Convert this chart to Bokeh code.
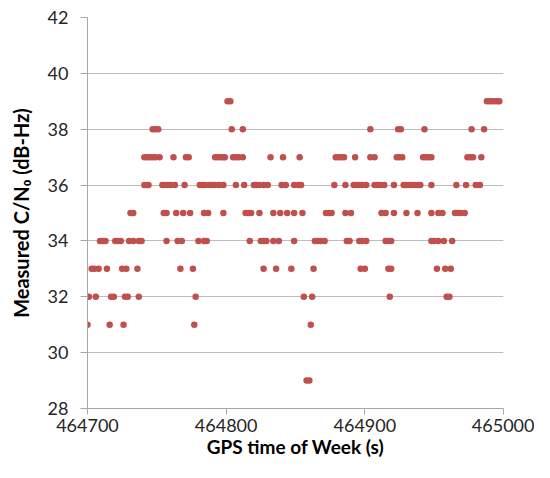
from bokeh.plotting import figure
from bokeh.models import FixedTicker, Range1d, BasicTickFormatter
from bokeh.embed import file_html
from bokeh.resources import INLINE

# GPS time of week (s) at which each measured C/N0 level (dB-Hz) occurs
t_29 = [464858, 464860]
t_31 = [464700, 464716, 464726, 464777, 464861]
t_32 = [464701, 464706, 464717, 464719, 464727, 464729, 464737, 464778, 464856,
        464862, 464918, 464959, 464961]
t_33 = [464703, 464705, 464708, 464714, 464725, 464728, 464736, 464767, 464776,
        464827, 464836, 464847, 464863, 464897, 464900, 464917, 464919, 464952,
        464958, 464962]
t_34 = [464709, 464711, 464713, 464720, 464722, 464724, 464730, 464733, 464737,
        464739, 464757, 464765, 464768, 464780, 464784, 464786, 464817, 464825,
        464827, 464829, 464834, 464838, 464849, 464864, 464866, 464868, 464871,
        464887, 464889, 464896, 464898, 464901, 464915, 464917, 464919, 464948,
        464950, 464953, 464957, 464963]
t_35 = [464731, 464733, 464755, 464757, 464764, 464769, 464774, 464784, 464787,
        464798, 464814, 464816, 464818, 464824, 464834, 464839, 464844, 464849,
        464855, 464872, 464874, 464876, 464886, 464890, 464912, 464915, 464921,
        464930, 464938, 464948, 464953, 464956, 464965, 464967, 464969, 464972]
t_36 = [464741, 464743, 464744, 464754, 464756, 464758, 464760, 464763, 464770,
        464781, 464783, 464785, 464788, 464790, 464792, 464795, 464798, 464807,
        464813, 464820, 464822, 464824, 464827, 464830, 464840, 464843, 464849,
        464852, 464854, 464878, 464886, 464892, 464894, 464896, 464898, 464901,
        464907, 464909, 464911, 464914, 464921, 464928, 464930, 464932, 464934,
        464936, 464938, 464940, 464948, 464966, 464973, 464980, 464983]
t_37 = [464741, 464743, 464745, 464747, 464749, 464752, 464762, 464771, 464773,
        464792, 464794, 464796, 464798, 464799, 464805, 464807, 464809, 464812,
        464832, 464841, 464853, 464879, 464881, 464883, 464885, 464893, 464904,
        464907, 464923, 464925, 464927, 464942, 464944, 464946, 464948, 464974,
        464976, 464978, 464984]
t_38 = [464747, 464749, 464751, 464804, 464812, 464904, 464924, 464926, 464943,
        464977, 464986]
t_39 = [464801, 464803, 464988, 464990, 464992, 464994, 464996, 464997]

levels = [29, 31, 32, 33, 34, 35, 36, 37, 38, 39]
times_by_level = [t_29, t_31, t_32, t_33, t_34, t_35, t_36, t_37, t_38, t_39]

y_ticks = [28, 30, 32, 34, 36, 38, 40, 42]
x_ticks = [464700, 464800, 464900, 465000]

x_title = "GPS time of Week (s)"
y_title = "Measured C/N\u2080 (dB-Hz)"

xs, ys = [], []
for lvl, ts in zip(levels, times_by_level):
    xs.extend(ts)
    ys.extend([lvl] * len(ts))

p = figure(width=534, height=462,
           x_range=Range1d(464700, 465000), y_range=Range1d(28, 42),
           output_backend="svg", toolbar_location=None,
           min_border_left=87, min_border_right=31,
           min_border_top=17, min_border_bottom=54)
p.outline_line_color = None
p.background_fill_color = "white"
p.border_fill_color = "white"

p.scatter(xs, ys, size=6.5, fill_color="#C0504D", line_color=None)

p.xgrid.visible = False
p.ygrid.grid_line_color = "#BDBDBD"
p.ygrid.grid_line_width = 1

FONT = "Lato"
for ax in (p.xaxis[0], p.yaxis[0]):
    ax.axis_line_color = "#A6A6A6"
    ax.major_tick_line_color = "#A6A6A6"
    ax.minor_tick_line_color = None
    ax.major_tick_in = 0
    ax.major_label_text_font = FONT
    ax.major_label_text_font_size = "18px"
    ax.major_label_text_color = "#262626"
    ax.axis_label_text_font = FONT
    ax.axis_label_text_font_style = "bold"
    ax.axis_label_text_color = "black"

p.xaxis.ticker = FixedTicker(ticks=x_ticks)
p.xaxis.formatter = BasicTickFormatter(use_scientific=False)
p.xaxis.major_tick_out = 6
p.xaxis.major_label_standoff = 4
p.xaxis.axis_label = x_title
p.xaxis.axis_label_text_font_size = "19px"
p.xaxis.axis_label_standoff = 0

p.yaxis.ticker = FixedTicker(ticks=y_ticks)
p.yaxis.major_tick_out = 7
p.yaxis.major_label_standoff = 12
p.yaxis.axis_label = y_title
p.yaxis.axis_label_text_font_size = "20px"
p.yaxis.axis_label_standoff = 12

open("out.html", "w").write(file_html(p, INLINE))
